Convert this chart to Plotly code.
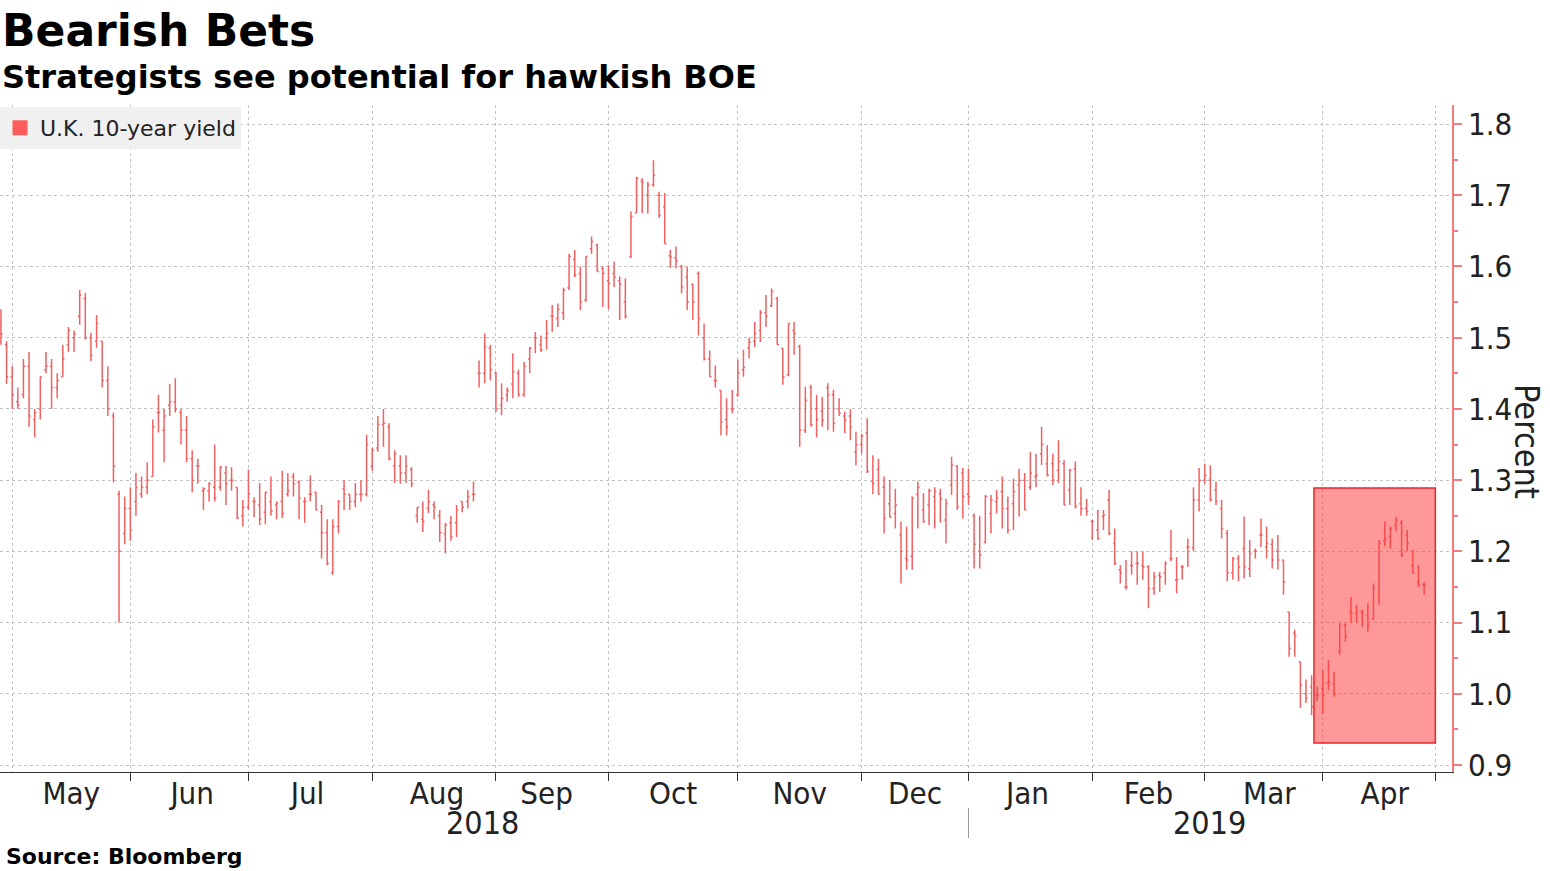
import pandas as pd
import plotly.graph_objects as go

# ---------------- data ----------------
HOLIDAYS = ["2018-05-07", "2018-05-28", "2018-08-27", "2018-12-25",
            "2018-12-26", "2019-01-01", "2019-04-19", "2019-04-22"]
START_DATE = "2018-04-27"
END_DATE = "2019-04-29"

OPEN = [
    1.52, 1.49, 1.445, 1.41, 1.42, 1.46, 1.385, 1.40, 1.455, 1.46,
    1.43, 1.445, 1.49, 1.50, 1.53, 1.555, 1.50, 1.495, 1.495, 1.44,
    1.39, 1.28, 1.225, 1.26, 1.27, 1.28, 1.29, 1.305, 1.395, 1.37,
    1.405, 1.41, 1.395, 1.37, 1.33, 1.32, 1.285, 1.285, 1.29, 1.29,
    1.31, 1.30, 1.29, 1.25, 1.262, 1.27, 1.265, 1.255, 1.27, 1.265,
    1.27, 1.28, 1.305, 1.297, 1.27, 1.28, 1.283, 1.255, 1.226, 1.17,
    1.235, 1.288, 1.28, 1.27, 1.28, 1.28, 1.32, 1.345, 1.378, 1.375,
    1.32, 1.32, 1.31, 1.315, 1.25, 1.245, 1.26, 1.265, 1.25, 1.225,
    1.24, 1.24, 1.27, 1.27, 1.28, 1.45, 1.45, 1.485, 1.45, 1.405,
    1.42, 1.435, 1.45, 1.42, 1.47, 1.50, 1.49, 1.50, 1.53, 1.527,
    1.535, 1.57, 1.61, 1.59, 1.553, 1.625, 1.63, 1.597, 1.58, 1.59,
    1.58, 1.55, 1.614, 1.675, 1.72, 1.70, 1.715, 1.70, 1.684, 1.615,
    1.612, 1.60, 1.585, 1.575, 1.59, 1.50, 1.47, 1.44, 1.426, 1.385,
    1.40, 1.42, 1.455, 1.485, 1.495, 1.51, 1.535, 1.545, 1.555, 1.485,
    1.448, 1.51, 1.488, 1.37, 1.43, 1.40, 1.397, 1.43, 1.42, 1.40,
    1.39, 1.39, 1.34, 1.35, 1.366, 1.298, 1.315, 1.29, 1.267, 1.253,
    1.223, 1.19, 1.193, 1.28, 1.258, 1.265, 1.277, 1.281, 1.244, 1.293,
    1.32, 1.31, 1.28, 1.25, 1.20, 1.213, 1.253, 1.27, 1.284, 1.26,
    1.267, 1.293, 1.30, 1.29, 1.305, 1.337, 1.323, 1.323, 1.314, 1.323,
    1.286, 1.316, 1.267, 1.26, 1.242, 1.23, 1.249, 1.272, 1.211, 1.174,
    1.15, 1.18, 1.183, 1.18, 1.178, 1.148, 1.166, 1.17, 1.19, 1.16,
    1.178, 1.206, 1.205, 1.272, 1.30, 1.30, 1.286, 1.26, 1.225, 1.17,
    1.19, 1.204, 1.176, 1.20, 1.223, 1.206, 1.21, 1.20, 1.188, 1.115,
    1.085, 1.045, 1.00, 1.01, 0.998, 1.007, 1.015, 1.014, 1.06, 1.097,
    1.115, 1.113, 1.115, 1.11, 1.106, 1.143, 1.215, 1.22, 1.237, 1.24,
    1.223, 1.18, 1.157, 1.153,
]
HIGH = [
    1.54, 1.495, 1.46, 1.43, 1.47, 1.48, 1.40, 1.445, 1.48, 1.47,
    1.45, 1.49, 1.515, 1.51, 1.567, 1.563, 1.507, 1.532, 1.495, 1.46,
    1.395, 1.285, 1.277, 1.29, 1.31, 1.305, 1.325, 1.385, 1.42, 1.40,
    1.435, 1.443, 1.40, 1.39, 1.342, 1.33, 1.29, 1.297, 1.35, 1.32,
    1.32, 1.318, 1.29, 1.272, 1.315, 1.276, 1.296, 1.283, 1.305, 1.27,
    1.313, 1.31, 1.31, 1.30, 1.276, 1.307, 1.283, 1.265, 1.245, 1.245,
    1.272, 1.30, 1.28, 1.296, 1.30, 1.364, 1.345, 1.39, 1.40, 1.38,
    1.342, 1.335, 1.335, 1.318, 1.262, 1.27, 1.286, 1.27, 1.258, 1.24,
    1.25, 1.265, 1.27, 1.286, 1.298, 1.468, 1.506, 1.49, 1.452, 1.436,
    1.43, 1.478, 1.455, 1.466, 1.487, 1.508, 1.503, 1.525, 1.546, 1.548,
    1.57, 1.618, 1.623, 1.60, 1.614, 1.642, 1.632, 1.60, 1.602, 1.607,
    1.586, 1.583, 1.677, 1.726, 1.724, 1.719, 1.749, 1.705, 1.703, 1.623,
    1.628, 1.602, 1.60, 1.576, 1.593, 1.52, 1.482, 1.461, 1.426, 1.415,
    1.427, 1.469, 1.483, 1.50, 1.522, 1.539, 1.56, 1.569, 1.557, 1.485,
    1.52, 1.522, 1.49, 1.431, 1.434, 1.42, 1.417, 1.436, 1.427, 1.415,
    1.396, 1.40, 1.368, 1.365, 1.387, 1.335, 1.33, 1.305, 1.30, 1.288,
    1.242, 1.235, 1.277, 1.298, 1.282, 1.288, 1.29, 1.288, 1.274, 1.333,
    1.321, 1.317, 1.316, 1.253, 1.25, 1.279, 1.279, 1.286, 1.305, 1.277,
    1.302, 1.316, 1.31, 1.34, 1.337, 1.375, 1.349, 1.337, 1.356, 1.328,
    1.316, 1.326, 1.29, 1.274, 1.244, 1.258, 1.258, 1.286, 1.232, 1.181,
    1.188, 1.20, 1.20, 1.20, 1.181, 1.171, 1.171, 1.186, 1.23, 1.192,
    1.181, 1.218, 1.29, 1.317, 1.323, 1.321, 1.298, 1.272, 1.23, 1.192,
    1.195, 1.249, 1.216, 1.204, 1.246, 1.235, 1.218, 1.223, 1.188, 1.115,
    1.09, 1.045, 1.02, 1.026, 1.01, 1.033, 1.047, 1.031, 1.099, 1.099,
    1.136, 1.125, 1.118, 1.127, 1.155, 1.216, 1.242, 1.235, 1.249, 1.244,
    1.23, 1.202, 1.181, 1.157,
]
LOW = [
    1.49, 1.435, 1.40, 1.40, 1.415, 1.375, 1.36, 1.385, 1.45, 1.40,
    1.415, 1.445, 1.48, 1.48, 1.518, 1.497, 1.467, 1.486, 1.43, 1.39,
    1.297, 1.10, 1.21, 1.215, 1.25, 1.275, 1.28, 1.305, 1.367, 1.325,
    1.39, 1.395, 1.35, 1.325, 1.283, 1.295, 1.258, 1.27, 1.27, 1.285,
    1.265, 1.285, 1.245, 1.235, 1.258, 1.248, 1.237, 1.238, 1.25, 1.245,
    1.247, 1.277, 1.277, 1.245, 1.24, 1.27, 1.258, 1.19, 1.18, 1.167,
    1.225, 1.258, 1.258, 1.262, 1.27, 1.277, 1.313, 1.34, 1.347, 1.328,
    1.296, 1.295, 1.296, 1.29, 1.24, 1.227, 1.254, 1.245, 1.213, 1.197,
    1.215, 1.22, 1.255, 1.26, 1.27, 1.43, 1.436, 1.44, 1.396, 1.391,
    1.41, 1.415, 1.417, 1.417, 1.45, 1.478, 1.48, 1.483, 1.508, 1.515,
    1.525, 1.567, 1.585, 1.539, 1.55, 1.618, 1.593, 1.543, 1.54, 1.571,
    1.525, 1.527, 1.612, 1.675, 1.675, 1.674, 1.712, 1.668, 1.632, 1.598,
    1.597, 1.562, 1.539, 1.525, 1.503, 1.468, 1.445, 1.43, 1.363, 1.363,
    1.394, 1.417, 1.445, 1.471, 1.487, 1.494, 1.515, 1.543, 1.49, 1.434,
    1.446, 1.476, 1.347, 1.366, 1.375, 1.36, 1.375, 1.37, 1.368, 1.39,
    1.366, 1.356, 1.321, 1.337, 1.31, 1.28, 1.28, 1.225, 1.248, 1.232,
    1.155, 1.174, 1.174, 1.232, 1.24, 1.237, 1.232, 1.24, 1.211, 1.279,
    1.258, 1.246, 1.265, 1.176, 1.176, 1.211, 1.225, 1.253, 1.232, 1.225,
    1.23, 1.249, 1.258, 1.286, 1.29, 1.321, 1.305, 1.293, 1.296, 1.265,
    1.265, 1.26, 1.25, 1.25, 1.216, 1.216, 1.23, 1.223, 1.181, 1.155,
    1.146, 1.167, 1.153, 1.16, 1.12, 1.139, 1.143, 1.153, 1.186, 1.141,
    1.16, 1.178, 1.20, 1.256, 1.295, 1.27, 1.265, 1.218, 1.158, 1.16,
    1.158, 1.162, 1.164, 1.19, 1.206, 1.19, 1.176, 1.174, 1.139, 1.052,
    1.052, 0.98, 0.987, 0.97, 0.99, 0.972, 1.005, 0.996, 1.055, 1.073,
    1.099, 1.10, 1.094, 1.087, 1.104, 1.125, 1.207, 1.204, 1.228, 1.192,
    1.20, 1.169, 1.15, 1.139,
]
CLOSE = [
    1.505, 1.445, 1.42, 1.405, 1.46, 1.39, 1.395, 1.445, 1.46, 1.43,
    1.44, 1.47, 1.51, 1.505, 1.56, 1.50, 1.475, 1.52, 1.44, 1.40,
    1.32, 1.20, 1.26, 1.23, 1.29, 1.29, 1.30, 1.375, 1.395, 1.39,
    1.41, 1.40, 1.37, 1.33, 1.30, 1.32, 1.288, 1.295, 1.275, 1.318,
    1.295, 1.30, 1.247, 1.262, 1.28, 1.27, 1.245, 1.283, 1.257, 1.268,
    1.253, 1.285, 1.295, 1.275, 1.27, 1.28, 1.258, 1.226, 1.183, 1.235,
    1.27, 1.28, 1.27, 1.28, 1.28, 1.35, 1.342, 1.378, 1.38, 1.33,
    1.337, 1.31, 1.32, 1.295, 1.262, 1.242, 1.27, 1.262, 1.226, 1.237,
    1.22, 1.258, 1.262, 1.277, 1.28, 1.45, 1.487, 1.455, 1.40, 1.415,
    1.426, 1.452, 1.42, 1.46, 1.485, 1.50, 1.483, 1.506, 1.53, 1.54,
    1.567, 1.614, 1.588, 1.55, 1.614, 1.635, 1.593, 1.59, 1.576, 1.585,
    1.575, 1.53, 1.67, 1.724, 1.718, 1.714, 1.728, 1.672, 1.632, 1.613,
    1.608, 1.571, 1.55, 1.55, 1.527, 1.47, 1.445, 1.44, 1.382, 1.375,
    1.40, 1.45, 1.458, 1.494, 1.506, 1.535, 1.53, 1.565, 1.49, 1.445,
    1.52, 1.506, 1.37, 1.412, 1.378, 1.385, 1.384, 1.42, 1.38, 1.394,
    1.384, 1.375, 1.35, 1.362, 1.312, 1.295, 1.28, 1.246, 1.248, 1.265,
    1.20, 1.188, 1.275, 1.29, 1.242, 1.285, 1.284, 1.274, 1.267, 1.321,
    1.263, 1.277, 1.277, 1.21, 1.195, 1.277, 1.272, 1.275, 1.26, 1.23,
    1.284, 1.30, 1.258, 1.31, 1.307, 1.35, 1.307, 1.30, 1.326, 1.265,
    1.314, 1.263, 1.26, 1.256, 1.242, 1.218, 1.251, 1.225, 1.183, 1.17,
    1.15, 1.18, 1.183, 1.178, 1.148, 1.164, 1.164, 1.183, 1.19, 1.16,
    1.178, 1.206, 1.272, 1.30, 1.307, 1.272, 1.27, 1.232, 1.17, 1.19,
    1.178, 1.178, 1.197, 1.20, 1.223, 1.211, 1.188, 1.188, 1.157, 1.064,
    1.082, 1.012, 0.994, 0.982, 0.998, 0.998, 1.017, 1.00, 1.095, 1.08,
    1.113, 1.115, 1.113, 1.097, 1.148, 1.211, 1.218, 1.232, 1.244, 1.195,
    1.211, 1.17, 1.153, 1.153,
]

SERIES_NAME = "U.K. 10-year yield"
TITLE = "Bearish Bets"
SUBTITLE = "Strategists see potential for hawkish BOE"
SOURCE = "Source: Bloomberg"
YEAR_LABELS = ["2018", "2019"]
Y_TITLE = "Percent"

# ---------------- styling ----------------
BAR_COLOR = "#f06262"
LEGEND_COLOR = "#ff5c5c"
AXIS_RED = "#f27c7c"
GRID = "#c4c4c4"
NARROW = "Liberation Sans Narrow, DejaVu Sans Condensed, Arial Narrow, sans-serif"
BOLD = "DejaVu Sans, Verdana, sans-serif"

dates = pd.bdate_range(START_DATE, END_DATE, freq="C", holidays=HOLIDAYS)

fig = go.Figure()
fig.add_trace(go.Ohlc(
    x=dates, open=OPEN, high=HIGH, low=LOW, close=CLOSE,
    increasing=dict(line=dict(color=BAR_COLOR, width=1.5)),
    decreasing=dict(line=dict(color=BAR_COLOR, width=1.5)),
    tickwidth=0.3, showlegend=False, hoverinfo="skip", name=SERIES_NAME,
))
fig.add_trace(go.Scatter(
    x=[None], y=[None], mode="markers", name=SERIES_NAME,
    marker=dict(symbol="square", size=15, color=LEGEND_COLOR),
))

fig.update_layout(
    width=1550, height=871,
    margin=dict(l=0, r=98, t=105, b=99),
    plot_bgcolor="white", paper_bgcolor="white",
    showlegend=True,
    legend=dict(x=0, y=0.997, xanchor="left", yanchor="top", bgcolor="#f0f0f0",
                borderwidth=0, font=dict(family="DejaVu Sans", size=22, color="#222"),
                itemwidth=30),
    xaxis=dict(
        type="date",
        range=["2018-04-26 20:00", "2019-05-03 23:00"],
        rangebreaks=[dict(bounds=["sat", "mon"]), dict(values=HOLIDAYS)],
        tick0="2018-05-01", dtick="M1", tickformat="%b", ticklabelmode="period",
        ticklabelstandoff=-14,
        showgrid=True, gridcolor=GRID, griddash="dot", gridwidth=1,
        showline=True, linecolor="#333", linewidth=1.3,
        ticks="outside", ticklen=8, tickcolor="#333",
        tickfont=dict(family=NARROW, size=31, color="#222"),
        rangeslider=dict(visible=False), zeroline=False,
    ),
    yaxis=dict(
        side="right", range=[0.8902, 1.8267], tick0=0.9, dtick=0.1, tickformat=".1f",
        showgrid=True, gridcolor=GRID, griddash="dot", gridwidth=1,
        showline=True, linecolor=AXIS_RED, linewidth=1.5,
        ticks="outside", ticklen=8, tickwidth=2, tickcolor=AXIS_RED,
        minor=dict(dtick=0.05, ticks="outside", ticklen=4, tickcolor=AXIS_RED, showgrid=False),
        tickfont=dict(family=NARROW, size=31, color="#222"), zeroline=False,
    ),
)

# highlight box
fig.add_shape(type="rect", xref="x", yref="y",
              x0="2019-03-28 10:00", x1="2019-05-01", y0=0.931, y1=1.289,
              fillcolor="rgba(255,51,51,0.5)", line=dict(color="#e8262b", width=1.5),
              layer="above")
# year divider
fig.add_shape(type="line", xref="x", yref="paper",
              x0="2018-12-31 23:59:59", x1="2018-12-31 23:59:59", y0=-0.054, y1=-0.099,
              line=dict(color="#999", width=1))

fig.add_annotation(text=f"<b>{TITLE}</b>", xref="paper", yref="paper", x=0, y=1.111,
                   xanchor="left", yanchor="middle", showarrow=False,
                   font=dict(family=BOLD, size=44, color="#000"))
fig.add_annotation(text=f"<b>{SUBTITLE}</b>", xref="paper", yref="paper", x=0, y=1.042,
                   xanchor="left", yanchor="middle", showarrow=False,
                   font=dict(family=BOLD, size=32, color="#000"))
fig.add_annotation(text=f"<b>{SOURCE}</b>", xref="paper", yref="paper", x=0.003, y=-0.1274,
                   xanchor="left", yanchor="middle", showarrow=False,
                   font=dict(family=BOLD, size=22, color="#000"))
for lbl, xp in zip(YEAR_LABELS, [0.3326, 0.8333]):
    fig.add_annotation(text=lbl, xref="paper", yref="paper", x=xp, y=-0.0765,
                       xanchor="center", yanchor="middle", showarrow=False,
                       font=dict(family=NARROW, size=32, color="#222"))
fig.add_annotation(text=Y_TITLE, xref="paper", yref="paper", x=1.0517, y=0.496,
                   xanchor="center", yanchor="middle", showarrow=False, textangle=90,
                   font=dict(family=NARROW, size=34, color="#222"))

fig.write_html("out.html", config={"displayModeBar": False},
               post_script="document.body.style.margin='0px';")
